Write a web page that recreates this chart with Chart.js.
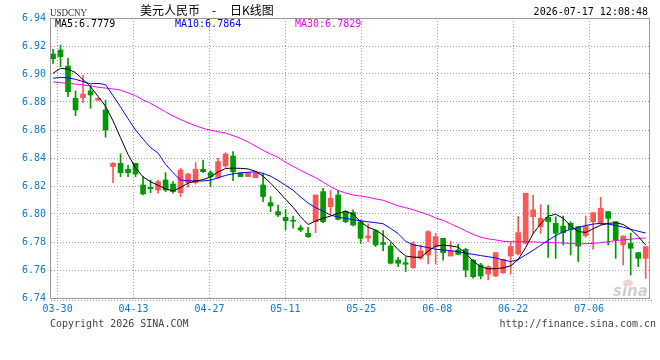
<!DOCTYPE html>
<html>
<head>
<meta charset="utf-8">
<script src="https://cdn.jsdelivr.net/npm/chart.js@4/dist/chart.umd.min.js"></script>
<style>
  html, body { margin: 0; padding: 0; background: #fff; }
  #klineChart { display: block; }
</style>
</head>
<body>
<canvas id="klineChart" width="660" height="360"></canvas>
<script>
// Dữ liệu nến ngày USDCNY (03-30 .. 07-17)
const openPrices = [6.9143, 6.9171, 6.9057, 6.8826, 6.8831, 6.8879, 6.8814, 6.8743, 6.8339, 6.8362,
  6.8319, 6.8362, 6.8207, 6.8191, 6.8171, 6.8243, 6.8214, 6.8152, 6.8224, 6.8224,
  6.8319, 6.8295, 6.8262, 6.8343, 6.8414, 6.8291, 6.8267, 6.8259, 6.8207, 6.8081,
  6.8017, 6.7976, 6.7955, 6.7902, 6.7862, 6.7945, 6.8160, 6.8052, 6.8136, 6.8017,
  6.8010, 6.7945, 6.7829, 6.7881, 6.7795, 6.7771, 6.7671, 6.7652, 6.7617, 6.7683,
  6.7707, 6.7767, 6.7826, 6.7700, 6.7743, 6.7748, 6.7671, 6.7636, 6.7571, 6.7557,
  6.7581, 6.7700, 6.7714, 6.7790, 6.7981, 6.7909, 6.7976, 6.7933, 6.7914, 6.7933,
  6.7910, 6.7845, 6.7945, 6.7933, 6.8017, 6.7945, 6.7779, 6.7790, 6.7724, 6.7683];
const highPrices = [6.9176, 6.9207, 6.9112, 6.8879, 6.8993, 6.8921, 6.8830, 6.8814, 6.8367, 6.8429,
  6.8350, 6.8362, 6.8267, 6.8243, 6.8243, 6.8295, 6.8231, 6.8326, 6.8291, 6.8367,
  6.8386, 6.8309, 6.8398, 6.8438, 6.8445, 6.8295, 6.8295, 6.8302, 6.8291, 6.8124,
  6.8064, 6.8033, 6.7986, 6.7921, 6.7905, 6.8136, 6.8183, 6.8167, 6.8167, 6.8024,
  6.8029, 6.7957, 6.7929, 6.7886, 6.7881, 6.7790, 6.7690, 6.7690, 6.7802, 6.7779,
  6.7881, 6.7862, 6.7826, 6.7807, 6.7786, 6.7755, 6.7676, 6.7648, 6.7629, 6.7724,
  6.7676, 6.7802, 6.7981, 6.8148, 6.8136, 6.8067, 6.8064, 6.7981, 6.7986, 6.7945,
  6.7910, 6.7986, 6.8010, 6.8119, 6.8017, 6.7945, 6.7843, 6.7862, 6.7724, 6.7767];
const lowPrices = [6.9076, 6.9052, 6.8838, 6.8702, 6.8795, 6.8755, 6.8810, 6.8548, 6.8224, 6.8267,
  6.8267, 6.8267, 6.8136, 6.8152, 6.8148, 6.8160, 6.8148, 6.8124, 6.8191, 6.8214,
  6.8295, 6.8195, 6.8255, 6.8333, 6.8238, 6.8267, 6.8267, 6.8259, 6.8088, 6.8017,
  6.7981, 6.7886, 6.7898, 6.7874, 6.7833, 6.7867, 6.7938, 6.7993, 6.7957, 6.7938,
  6.7914, 6.7790, 6.7802, 6.7767, 6.7738, 6.7643, 6.7624, 6.7588, 6.7612, 6.7676,
  6.7643, 6.7643, 6.7671, 6.7700, 6.7707, 6.7552, 6.7541, 6.7536, 6.7529, 6.7552,
  6.7576, 6.7571, 6.7707, 6.7786, 6.7862, 6.7862, 6.7690, 6.7683, 6.7779, 6.7707,
  6.7660, 6.7833, 6.7748, 6.7921, 6.7779, 6.7683, 6.7636, 6.7564, 6.7624, 6.7541];
const closePrices = [6.9109, 6.9124, 6.8874, 6.8743, 6.8857, 6.8850, 6.8826, 6.8600, 6.8362, 6.8295,
  6.8295, 6.8286, 6.8143, 6.8181, 6.8231, 6.8171, 6.8160, 6.8314, 6.8286, 6.8319,
  6.8302, 6.8267, 6.8374, 6.8429, 6.8302, 6.8267, 6.8295, 6.8295, 6.8124, 6.8057,
  6.7993, 6.7952, 6.7948, 6.7886, 6.7838, 6.8136, 6.7945, 6.8112, 6.7962, 6.7945,
  6.7921, 6.7826, 6.7843, 6.7779, 6.7783, 6.7648, 6.7648, 6.7641, 6.7786, 6.7736,
  6.7874, 6.7838, 6.7724, 6.7736, 6.7712, 6.7600, 6.7552, 6.7557, 6.7624, 6.7724,
  6.7676, 6.7767, 6.7867, 6.8148, 6.8029, 6.7969, 6.7945, 6.7862, 6.7867, 6.7890,
  6.7771, 6.7914, 6.8010, 6.8041, 6.7969, 6.7814, 6.7843, 6.7755, 6.7683, 6.7767];

// Đường trung bình động
const ma5 = [6.9005, 6.9040, 6.9035, 6.9010, 6.8960, 6.8910, 6.8840, 6.8770, 6.8665, 6.8545,
  6.8425, 6.8330, 6.8265, 6.8230, 6.8205, 6.8180, 6.8165, 6.8190, 6.8220, 6.8235,
  6.8245, 6.8265, 6.8300, 6.8325, 6.8328, 6.8326, 6.8322, 6.8305, 6.8270, 6.8220,
  6.8165, 6.8105, 6.8048, 6.7980, 6.7925, 6.7950, 6.7970, 6.7985, 6.8005, 6.8020,
  6.7998, 6.7945, 6.7905, 6.7885, 6.7850, 6.7805, 6.7745, 6.7700, 6.7692, 6.7690,
  6.7735, 6.7770, 6.7778, 6.7772, 6.7763, 6.7720, 6.7662, 6.7625, 6.7608, 6.7610,
  6.7615, 6.7630, 6.7675, 6.7760, 6.7860, 6.7930, 6.7985, 6.7998, 6.7970, 6.7915,
  6.7875, 6.7868, 6.7895, 6.7920, 6.7933, 6.7938, 6.7925, 6.7890, 6.7840, 6.7779];
const ma10 = [6.8970, 6.8976, 6.8972, 6.8962, 6.8946, 6.8930, 6.8933, 6.8924, 6.8845, 6.8765,
  6.8680, 6.8600, 6.8535, 6.8475, 6.8435, 6.8355, 6.8295, 6.8243, 6.8237, 6.8236,
  6.8236, 6.8242, 6.8258, 6.8276, 6.8287, 6.8294, 6.8298, 6.8302, 6.8290, 6.8270,
  6.8240, 6.8205, 6.8170, 6.8122, 6.8078, 6.8046, 6.8020, 6.7992, 6.7978, 6.7968,
  6.7960, 6.7952, 6.7944, 6.7938, 6.7930, 6.7897, 6.7860, 6.7805, 6.7780, 6.7770,
  6.7760, 6.7748, 6.7743, 6.7738, 6.7731, 6.7720, 6.7712, 6.7703, 6.7695, 6.7686,
  6.7672, 6.7660, 6.7675, 6.7708, 6.7740, 6.7777, 6.7812, 6.7845, 6.7872, 6.7890,
  6.7903, 6.7918, 6.7928, 6.7933, 6.7928, 6.7919, 6.7906, 6.7891, 6.7877, 6.7864];
const ma30 = [6.8943, 6.8938, 6.8933, 6.8928, 6.8922, 6.8914, 6.8906, 6.8899, 6.8893, 6.8885,
  6.8865, 6.8845, 6.8815, 6.8790, 6.8760, 6.8730, 6.8700, 6.8675, 6.8652, 6.8630,
  6.8612, 6.8598, 6.8588, 6.8578, 6.8560, 6.8540, 6.8515, 6.8485, 6.8455, 6.8428,
  6.8405, 6.8370, 6.8340, 6.8312, 6.8285, 6.8260, 6.8228, 6.8195, 6.8168, 6.8150,
  6.8136, 6.8128, 6.8120, 6.8108, 6.8098, 6.8078, 6.8058, 6.8045, 6.8030, 6.8012,
  6.7995, 6.7972, 6.7955, 6.7930, 6.7905, 6.7880, 6.7855, 6.7835, 6.7822, 6.7815,
  6.7805, 6.7802, 6.7802, 6.7802, 6.7801, 6.7798, 6.7796, 6.7795, 6.7793, 6.7790,
  6.7786, 6.7788, 6.7790, 6.7795, 6.7802, 6.7810, 6.7815, 6.7820, 6.7825, 6.7829];

// Nhãn trục X: phiên giao dịch có vạch lưới
const tickDays = [0, 10, 20, 30, 40, 50, 60, 70];
const tickLabels = ["03-30", "04-13", "04-27", "05-11", "05-25", "06-08", "06-22", "07-06"];

const UP_COLOR = "#ff5656";
const DOWN_COLOR = "#009a00";
const GRID_COLOR = "#9c9c9c";
const TICK_COLOR = "#0a78d0";
const MONO = "'DejaVu Sans Mono', monospace";

const dayIndex = openPrices.map((_, i) => i);
const candleColors = dayIndex.map((i) => (closePrices[i] >= openPrices[i] ? UP_COLOR : DOWN_COLOR));
const wickData = dayIndex.map((i) => ({ x: i, y: [lowPrices[i], highPrices[i]] }));
const bodyData = dayIndex.map((i) => ({
  x: i,
  y: [Math.min(openPrices[i], closePrices[i]), Math.max(openPrices[i], closePrices[i])],
}));
const toPoints = (arr) => arr.map((v, i) => ({ x: i, y: v }));

function lineSet(label, data, color) {
  return {
    type: "line",
    label: label,
    data: toPoints(data),
    borderColor: color,
    borderWidth: 1,
    pointRadius: 0,
    tension: 0,
    fill: false,
  };
}

// Khung, tiêu đề và chữ phụ
const decorPlugin = {
  id: "decor",
  beforeDatasetsDraw(chart) {
    const c = chart.ctx;
    c.save();
    c.fillStyle = "rgba(235,120,120,0.35)";
    c.beginPath();
    c.ellipse(628, 283, 5, 3.5, 0, 0, Math.PI * 2);
    c.fill();
    c.fillStyle = "#cfcfcf";
    c.font = "italic bold 15px 'DejaVu Sans'";
    c.fillText("sina", 613, 296);
    c.restore();
  },
  afterDraw(chart) {
    const c = chart.ctx;
    const a = chart.chartArea;
    c.save();
    c.strokeStyle = "#9a9a9a";
    c.lineWidth = 1;
    c.strokeRect(a.left - 0.5, a.top + 0.5, a.right - a.left + 1, a.bottom - a.top);
    c.setLineDash([1, 2]);
    c.strokeStyle = "#a0a0a0";
    c.beginPath();
    c.moveTo(a.left, a.bottom + 2.5);
    c.lineTo(a.right + 3, a.bottom + 2.5);
    c.stroke();
    c.setLineDash([]);

    c.textBaseline = "alphabetic";
    c.fillStyle = "#333";
    c.font = "11px 'Liberation Serif'";
    c.fillText("USDCNY", 50, 16, 37);

    c.fillStyle = "#000";
    c.font = "12px 'Noto Sans CJK SC'";
    c.fillText("美元人民币", 140, 15);
    c.fillText("-", 212, 15);
    c.fillText("日K线图", 230, 15);

    c.font = "10px " + MONO;
    c.textAlign = "right";
    c.fillText("2026-07-17 12:08:48", 648, 15);

    c.textAlign = "left";
    const last = ma5.length - 1;
    c.fillStyle = "#000";
    c.fillText("MA5:" + ma5[last].toFixed(4), 55, 27);
    c.fillStyle = "#0000ff";
    c.fillText("MA10:" + ma10[last].toFixed(4), 175, 27);
    c.fillStyle = "#ff00ff";
    c.fillText("MA30:" + ma30[last].toFixed(4), 295, 27);

    c.fillStyle = "#444";
    c.fillText("Copyright 2026 SINA.COM", 50, 327);
    c.textAlign = "right";
    c.fillText("http://finance.sina.com.cn", 656, 327);
    c.restore();
  },
};

new Chart(document.getElementById("klineChart"), {
  type: "bar",
  data: {
    datasets: [
      lineSet("MA5", ma5, "#000000"),
      lineSet("MA10", ma10, "#0000ff"),
      lineSet("MA30", ma30, "#ff00ff"),
      {
        label: "body",
        data: bodyData,
        backgroundColor: candleColors,
        borderWidth: 0,
        barThickness: 5,
        minBarLength: 1,
        grouped: false,
      },
      {
        label: "wick",
        data: wickData,
        backgroundColor: candleColors,
        borderWidth: 0,
        barThickness: 1,
        grouped: false,
      },
    ],
  },
  options: {
    responsive: false,
    animation: false,
    events: [],
    layout: { padding: { top: 18, right: 11, bottom: 0, left: 0 } },
    plugins: { legend: { display: false }, tooltip: { enabled: false } },
    scales: {
      x: {
        type: "linear",
        min: -0.27,
        max: 79.44,
        offset: false,
        grid: { color: GRID_COLOR, drawTicks: false, offset: false },
        border: { display: false, dash: [1, 2] },
        ticks: {
          color: TICK_COLOR,
          font: { family: MONO, size: 10 },
          padding: 5,
          autoSkip: false,
          maxRotation: 0,
          callback: (value, index) => tickLabels[index],
        },
        afterBuildTicks: (scale) => {
          scale.ticks = tickDays.map((d, k) => ({ value: d + 0.61 + k * 0.12 }));
        },
        afterFit: (scale) => {
          scale.height = 62;
        },
      },
      y: {
        min: 6.74,
        max: 6.94,
        beginAtZero: false,
        grid: { color: GRID_COLOR, drawTicks: false },
        border: { display: false, dash: [1, 2] },
        ticks: {
          stepSize: 0.02,
          color: TICK_COLOR,
          font: { family: MONO, size: 10 },
          padding: 5,
          callback: (v) => v.toFixed(2),
        },
        afterFit: (scale) => {
          scale.width = 51;
        },
      },
    },
  },
  plugins: [decorPlugin],
});
</script>
</body>
</html>
